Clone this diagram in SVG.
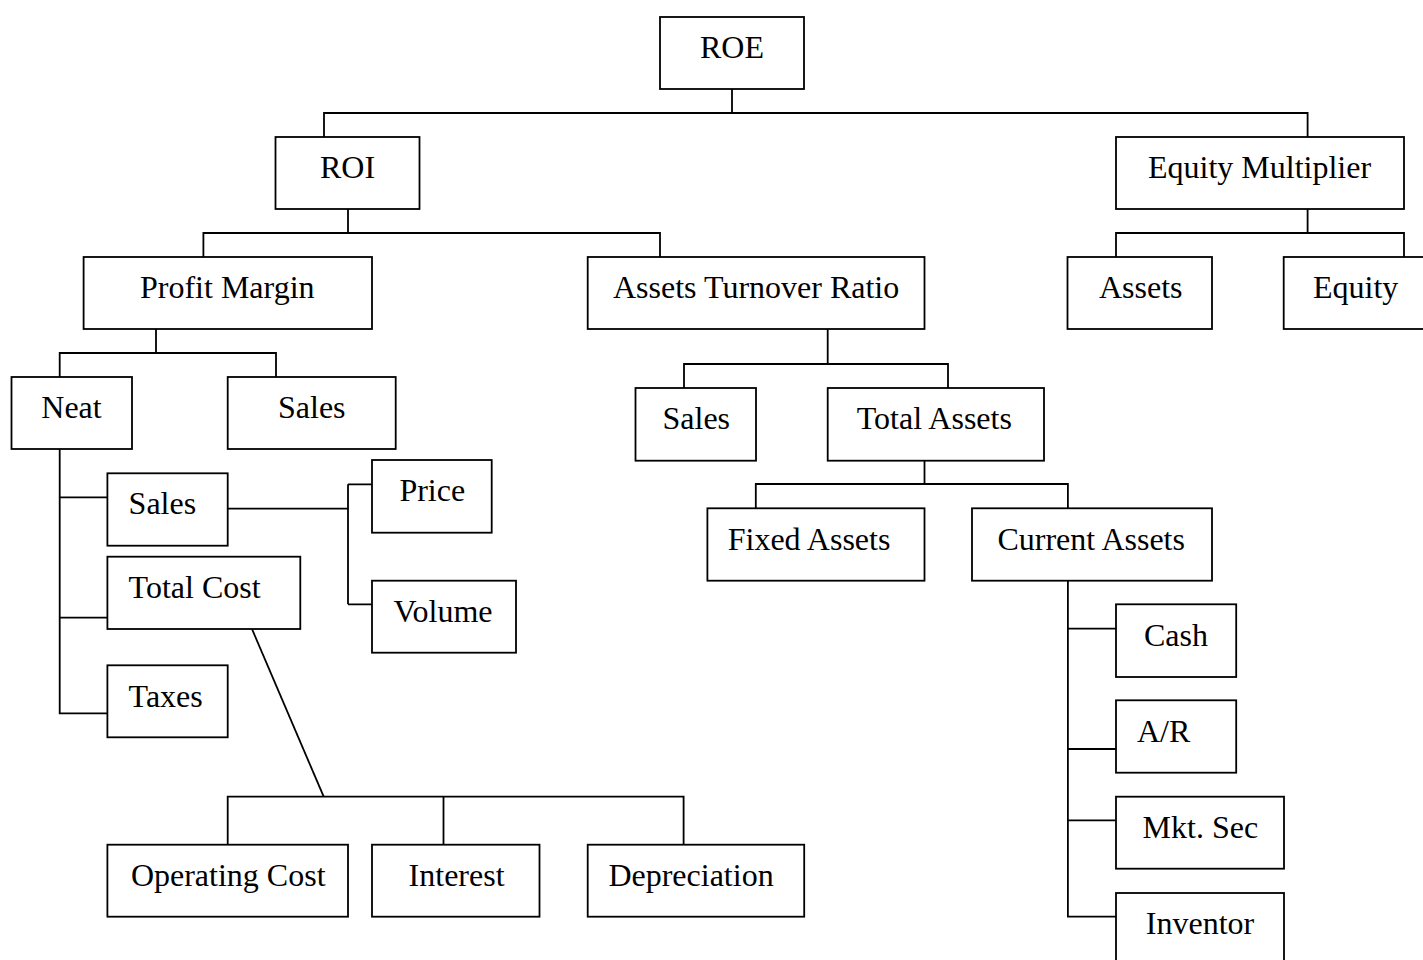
<svg xmlns="http://www.w3.org/2000/svg" width="1423" height="960" viewBox="0 0 1423 960">
<style>
rect{fill:#fff;stroke:#000;stroke-width:1.8}
text{font-family:"Liberation Serif","Times New Roman",serif;font-size:32px;fill:#000}
.c path{fill:none;stroke:#000;stroke-width:1.8}
</style>
<rect x="0" y="0" width="1423" height="960" style="stroke:none"/>
<g class="c" id="connectors">
<path d="M732,89V113M324,137V113H1307.6V137"/>
<path d="M348,209V233M203.4,257V233H660V257"/>
<path d="M1307.6,209V233M1116,257V233H1404V257"/>
<path d="M156,329V353M59.7,377V353H276V377"/>
<path d="M827.7,329V364M684,388V364H948V388"/>
<path d="M924.5,461V484M755.8,508.3V484H1067.9V508.3"/>
<path d="M59.7,449V713.3H107.4M59.7,497.3H107.4M59.7,617.7H107.4"/>
<path d="M227.7,508.7H348M348,484.3V604.3M348,484.3H372M348,604.3H372"/>
<path d="M252,629L323.7,796.7"/>
<path d="M227.7,844.7V796.7H683.6V844.7M443.5,796.7V844.7"/>
<path d="M1067.9,580.7V916.7H1116M1067.9,628.7H1116M1067.9,749H1116M1067.9,820.3H1116"/>
</g>
<g id="n-roe"><rect x="660" y="17" width="144" height="72"/><text x="700" y="58">ROE</text></g>
<g id="n-roi"><rect x="275.5" y="137" width="144" height="72"/><text x="320" y="178">ROI</text></g>
<g id="n-em"><rect x="1116" y="137" width="288" height="72"/><text x="1148" y="178">Equity Multiplier</text></g>
<g id="n-pm"><rect x="83.6" y="257" width="288.4" height="72"/><text x="140" y="298">Profit Margin</text></g>
<g id="n-atr"><rect x="587.7" y="257" width="336.8" height="72"/><text x="613" y="298">Assets Turnover Ratio</text></g>
<g id="n-assets"><rect x="1067.5" y="257" width="144.5" height="72"/><text x="1099" y="298">Assets</text></g>
<g id="n-equity"><rect x="1283.7" y="257" width="143" height="72"/><text x="1313" y="298">Equity</text></g>
<g id="n-neat"><rect x="11.5" y="377" width="120.5" height="72"/><text x="41.3" y="418">Neat</text></g>
<g id="n-sales1"><rect x="227.7" y="377" width="168" height="72"/><text x="278" y="418">Sales</text></g>
<g id="n-sales2"><rect x="635.5" y="388" width="120.5" height="72.7"/><text x="662.5" y="429">Sales</text></g>
<g id="n-ta"><rect x="827.7" y="388" width="216.3" height="72.7"/><text x="856.8" y="429">Total Assets</text></g>
<g id="n-sales3"><rect x="107.4" y="473.3" width="120.3" height="72.4"/><text x="128.6" y="514">Sales</text></g>
<g id="n-price"><rect x="372" y="460" width="119.7" height="72.7"/><text x="399.4" y="501">Price</text></g>
<g id="n-tc"><rect x="107.4" y="556.7" width="192.9" height="72.3"/><text x="128.6" y="597.5">Total Cost</text></g>
<g id="n-volume"><rect x="372" y="580.7" width="144" height="72"/><text x="393.5" y="621.5">Volume</text></g>
<g id="n-taxes"><rect x="107.4" y="665.3" width="120.3" height="72"/><text x="128.6" y="706.5">Taxes</text></g>
<g id="n-fa"><rect x="707.4" y="508.3" width="217.1" height="72.4"/><text x="727.7" y="549.5">Fixed Assets</text></g>
<g id="n-ca"><rect x="972" y="508.3" width="240" height="72.4"/><text x="997.4" y="549.5">Current Assets</text></g>
<g id="n-cash"><rect x="1116" y="604.3" width="120.2" height="72.7"/><text x="1144" y="645.5">Cash</text></g>
<g id="n-ar"><rect x="1116" y="700.3" width="120.2" height="72.4"/><text x="1137" y="741.5">A/R</text></g>
<g id="n-mkt"><rect x="1116" y="796.7" width="168" height="72"/><text x="1142.6" y="837.7">Mkt. Sec</text></g>
<g id="n-inv"><rect x="1116" y="893" width="168" height="80"/><text x="1145.8" y="933.5">Inventor</text></g>
<g id="n-oc"><rect x="107.4" y="844.7" width="240.6" height="72"/><text x="130.9" y="885.7">Operating Cost</text></g>
<g id="n-int"><rect x="372" y="844.7" width="167.5" height="72"/><text x="408.6" y="885.7">Interest</text></g>
<g id="n-dep"><rect x="587.7" y="844.7" width="216.5" height="72"/><text x="608.4" y="885.7">Depreciation</text></g>
</svg>
